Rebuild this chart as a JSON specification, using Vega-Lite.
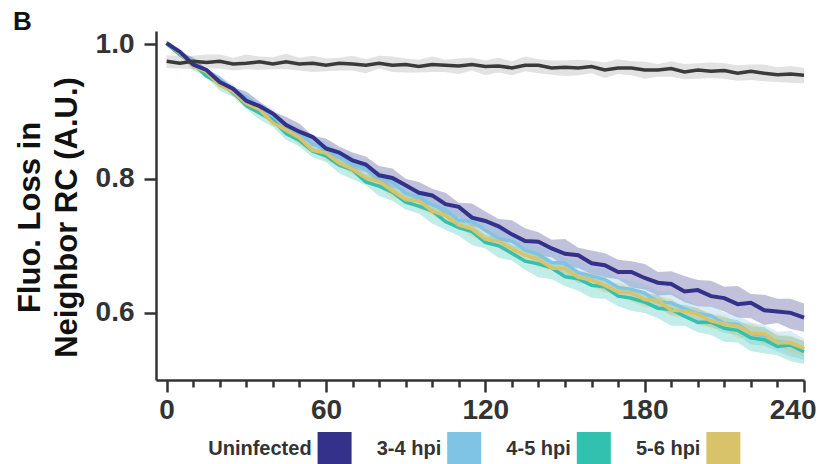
{
"$schema":"https://vega.github.io/schema/vega-lite/v6.json",
"background":"white",
"padding":{"top":9,"left":13,"right":5,"bottom":0},
"config":{"view":{"stroke":null},"font":"Liberation Sans"},
"title":{"text":"B","anchor":"start","frame":"bounds","fontSize":26,"fontWeight":"bold","color":"#111","offset":-5,"dx":-1},
"spacing":8,
"datasets":{
"main":[
{"t":0,"u":0.975,"ul":0.965,"uh":0.984,"a":1.002,"al":0.998,"ah":1.006,"b":1.002,"bl":0.998,"bh":1.006,"c":1.002,"cl":0.999,"ch":1.006,"d":1.002,"dl":0.996,"dh":1.006},
{"t":5,"u":0.972,"ul":0.964,"uh":0.983,"a":0.989,"al":0.982,"ah":0.990,"b":0.985,"bl":0.981,"bh":0.990,"c":0.987,"cl":0.985,"ch":0.987,"d":0.985,"dl":0.983,"dh":0.991},
{"t":10,"u":0.975,"ul":0.963,"uh":0.983,"a":0.970,"al":0.969,"ah":0.980,"b":0.975,"bl":0.969,"bh":0.979,"c":0.968,"cl":0.964,"ch":0.976,"d":0.972,"dl":0.962,"dh":0.973},
{"t":15,"u":0.973,"ul":0.964,"uh":0.985,"a":0.962,"al":0.952,"ah":0.964,"b":0.958,"bl":0.951,"bh":0.961,"c":0.959,"cl":0.954,"ch":0.960,"d":0.953,"dl":0.951,"dh":0.963},
{"t":20,"u":0.975,"ul":0.964,"uh":0.985,"a":0.944,"al":0.942,"ah":0.953,"b":0.947,"bl":0.941,"bh":0.952,"c":0.939,"cl":0.936,"ch":0.949,"d":0.942,"dl":0.931,"dh":0.944},
{"t":25,"u":0.971,"ul":0.961,"uh":0.980,"a":0.934,"al":0.923,"ah":0.936,"b":0.929,"bl":0.924,"bh":0.941,"c":0.930,"cl":0.926,"ch":0.929,"d":0.929,"dl":0.922,"dh":0.935},
{"t":30,"u":0.972,"ul":0.963,"uh":0.985,"a":0.916,"al":0.913,"ah":0.930,"b":0.922,"bl":0.915,"bh":0.923,"c":0.912,"cl":0.904,"ch":0.918,"d":0.909,"dl":0.904,"dh":0.917},
{"t":35,"u":0.974,"ul":0.962,"uh":0.982,"a":0.908,"al":0.896,"ah":0.915,"b":0.906,"bl":0.899,"bh":0.913,"c":0.903,"cl":0.895,"ch":0.906,"d":0.898,"dl":0.888,"dh":0.909},
{"t":40,"u":0.971,"ul":0.963,"uh":0.981,"a":0.897,"al":0.888,"ah":0.900,"b":0.891,"bl":0.883,"bh":0.904,"c":0.883,"cl":0.882,"ch":0.888,"d":0.887,"dl":0.877,"dh":0.888},
{"t":45,"u":0.974,"ul":0.963,"uh":0.986,"a":0.880,"al":0.874,"ah":0.892,"b":0.881,"bl":0.875,"bh":0.884,"c":0.872,"cl":0.866,"ch":0.880,"d":0.867,"dl":0.858,"dh":0.877},
{"t":50,"u":0.971,"ul":0.961,"uh":0.980,"a":0.870,"al":0.859,"ah":0.882,"b":0.870,"bl":0.860,"bh":0.876,"c":0.861,"cl":0.850,"ch":0.864,"d":0.857,"dl":0.848,"dh":0.866},
{"t":55,"u":0.972,"ul":0.959,"uh":0.983,"a":0.862,"al":0.853,"ah":0.864,"b":0.851,"bl":0.843,"bh":0.861,"c":0.842,"cl":0.844,"ch":0.853,"d":0.841,"dl":0.832,"dh":0.847},
{"t":60,"u":0.969,"ul":0.960,"uh":0.979,"a":0.845,"al":0.835,"ah":0.860,"b":0.846,"bl":0.839,"bh":0.855,"c":0.838,"cl":0.827,"ch":0.838,"d":0.834,"dl":0.825,"dh":0.844},
{"t":65,"u":0.972,"ul":0.961,"uh":0.980,"a":0.839,"al":0.829,"ah":0.848,"b":0.832,"bl":0.823,"bh":0.841,"c":0.823,"cl":0.819,"ch":0.832,"d":0.820,"dl":0.808,"dh":0.829},
{"t":70,"u":0.971,"ul":0.961,"uh":0.983,"a":0.827,"al":0.816,"ah":0.839,"b":0.822,"bl":0.814,"bh":0.835,"c":0.814,"cl":0.807,"ch":0.820,"d":0.813,"dl":0.799,"dh":0.820},
{"t":75,"u":0.969,"ul":0.957,"uh":0.978,"a":0.821,"al":0.809,"ah":0.833,"b":0.815,"bl":0.799,"bh":0.818,"c":0.801,"cl":0.793,"ch":0.808,"d":0.795,"dl":0.790,"dh":0.807},
{"t":80,"u":0.972,"ul":0.964,"uh":0.983,"a":0.805,"al":0.794,"ah":0.819,"b":0.800,"bl":0.796,"bh":0.812,"c":0.796,"cl":0.788,"ch":0.803,"d":0.789,"dl":0.774,"dh":0.802},
{"t":85,"u":0.969,"ul":0.959,"uh":0.982,"a":0.801,"al":0.787,"ah":0.815,"b":0.795,"bl":0.779,"bh":0.803,"c":0.782,"cl":0.771,"ch":0.788,"d":0.780,"dl":0.767,"dh":0.788},
{"t":90,"u":0.970,"ul":0.958,"uh":0.979,"a":0.790,"al":0.780,"ah":0.800,"b":0.778,"bl":0.771,"bh":0.789,"c":0.769,"cl":0.768,"ch":0.781,"d":0.765,"dl":0.754,"dh":0.776},
{"t":95,"u":0.967,"ul":0.958,"uh":0.977,"a":0.779,"al":0.764,"ah":0.795,"b":0.773,"bl":0.763,"bh":0.784,"c":0.767,"cl":0.755,"ch":0.767,"d":0.759,"dl":0.748,"dh":0.773},
{"t":100,"u":0.970,"ul":0.959,"uh":0.982,"a":0.775,"al":0.760,"ah":0.785,"b":0.761,"bl":0.748,"bh":0.777,"c":0.752,"cl":0.746,"ch":0.763,"d":0.752,"dl":0.733,"dh":0.758},
{"t":105,"u":0.969,"ul":0.959,"uh":0.977,"a":0.762,"al":0.747,"ah":0.779,"b":0.754,"bl":0.742,"bh":0.761,"c":0.745,"cl":0.733,"ch":0.751,"d":0.736,"dl":0.724,"dh":0.751},
{"t":110,"u":0.968,"ul":0.956,"uh":0.979,"a":0.758,"al":0.742,"ah":0.764,"b":0.738,"bl":0.727,"bh":0.753,"c":0.731,"cl":0.730,"ch":0.740,"d":0.727,"dl":0.715,"dh":0.738},
{"t":115,"u":0.970,"ul":0.961,"uh":0.980,"a":0.742,"al":0.729,"ah":0.763,"b":0.736,"bl":0.724,"bh":0.748,"c":0.725,"cl":0.713,"ch":0.735,"d":0.721,"dl":0.701,"dh":0.731},
{"t":120,"u":0.967,"ul":0.954,"uh":0.976,"a":0.737,"al":0.725,"ah":0.751,"b":0.723,"bl":0.710,"bh":0.732,"c":0.710,"cl":0.706,"ch":0.720,"d":0.705,"dl":0.696,"dh":0.716},
{"t":125,"u":0.968,"ul":0.958,"uh":0.980,"a":0.729,"al":0.709,"ah":0.740,"b":0.711,"bl":0.699,"bh":0.727,"c":0.707,"cl":0.698,"ch":0.713,"d":0.700,"dl":0.682,"dh":0.713},
{"t":130,"u":0.965,"ul":0.954,"uh":0.975,"a":0.717,"al":0.704,"ah":0.738,"b":0.707,"bl":0.694,"bh":0.717,"c":0.695,"cl":0.684,"ch":0.701,"d":0.689,"dl":0.678,"dh":0.702},
{"t":135,"u":0.969,"ul":0.960,"uh":0.982,"a":0.707,"al":0.696,"ah":0.726,"b":0.694,"bl":0.686,"bh":0.704,"c":0.686,"cl":0.680,"ch":0.697,"d":0.677,"dl":0.664,"dh":0.693},
{"t":140,"u":0.969,"ul":0.957,"uh":0.978,"a":0.706,"al":0.685,"ah":0.720,"b":0.687,"bl":0.670,"bh":0.700,"c":0.680,"cl":0.668,"ch":0.690,"d":0.673,"dl":0.653,"dh":0.687},
{"t":145,"u":0.965,"ul":0.955,"uh":0.976,"a":0.696,"al":0.683,"ah":0.709,"b":0.675,"bl":0.665,"bh":0.694,"c":0.667,"cl":0.664,"ch":0.677,"d":0.667,"dl":0.650,"dh":0.674},
{"t":150,"u":0.966,"ul":0.953,"uh":0.976,"a":0.688,"al":0.669,"ah":0.710,"b":0.674,"bl":0.658,"bh":0.682,"c":0.666,"cl":0.650,"ch":0.671,"d":0.654,"dl":0.640,"dh":0.674},
{"t":155,"u":0.965,"ul":0.954,"uh":0.977,"a":0.686,"al":0.667,"ah":0.697,"b":0.660,"bl":0.644,"bh":0.678,"c":0.653,"cl":0.648,"ch":0.663,"d":0.651,"dl":0.633,"dh":0.661},
{"t":160,"u":0.967,"ul":0.957,"uh":0.976,"a":0.674,"al":0.658,"ah":0.693,"b":0.655,"bl":0.643,"bh":0.668,"c":0.649,"cl":0.639,"ch":0.660,"d":0.641,"dl":0.622,"dh":0.657},
{"t":165,"u":0.962,"ul":0.950,"uh":0.973,"a":0.671,"al":0.653,"ah":0.689,"b":0.650,"bl":0.633,"bh":0.666,"c":0.641,"cl":0.630,"ch":0.647,"d":0.639,"dl":0.621,"dh":0.649},
{"t":170,"u":0.965,"ul":0.956,"uh":0.978,"a":0.661,"al":0.650,"ah":0.679,"b":0.638,"bl":0.630,"bh":0.652,"c":0.631,"cl":0.628,"ch":0.645,"d":0.625,"dl":0.610,"dh":0.640},
{"t":175,"u":0.965,"ul":0.954,"uh":0.975,"a":0.661,"al":0.638,"ah":0.677,"b":0.635,"bl":0.617,"bh":0.648,"c":0.630,"cl":0.618,"ch":0.639,"d":0.622,"dl":0.603,"dh":0.638},
{"t":180,"u":0.962,"ul":0.949,"uh":0.974,"a":0.652,"al":0.635,"ah":0.673,"b":0.630,"bl":0.613,"bh":0.643,"c":0.620,"cl":0.608,"ch":0.629,"d":0.616,"dl":0.600,"dh":0.629},
{"t":185,"u":0.962,"ul":0.952,"uh":0.971,"a":0.645,"al":0.626,"ah":0.661,"b":0.616,"bl":0.608,"bh":0.633,"c":0.618,"cl":0.609,"ch":0.625,"d":0.607,"dl":0.592,"dh":0.627},
{"t":190,"u":0.964,"ul":0.952,"uh":0.975,"a":0.643,"al":0.627,"ah":0.662,"b":0.615,"bl":0.596,"bh":0.631,"c":0.604,"cl":0.596,"ch":0.621,"d":0.605,"dl":0.581,"dh":0.613},
{"t":195,"u":0.959,"ul":0.948,"uh":0.971,"a":0.632,"al":0.616,"ah":0.655,"b":0.606,"bl":0.596,"bh":0.620,"c":0.603,"cl":0.592,"ch":0.609,"d":0.595,"dl":0.581,"dh":0.612},
{"t":200,"u":0.962,"ul":0.949,"uh":0.972,"a":0.634,"al":0.610,"ah":0.649,"b":0.599,"bl":0.582,"bh":0.611,"c":0.598,"cl":0.587,"ch":0.607,"d":0.586,"dl":0.571,"dh":0.607},
{"t":205,"u":0.960,"ul":0.950,"uh":0.973,"a":0.625,"al":0.609,"ah":0.648,"b":0.596,"bl":0.579,"bh":0.610,"c":0.588,"cl":0.577,"ch":0.599,"d":0.586,"dl":0.567,"dh":0.597},
{"t":210,"u":0.961,"ul":0.949,"uh":0.972,"a":0.622,"al":0.602,"ah":0.639,"b":0.584,"bl":0.570,"bh":0.601,"c":0.583,"cl":0.575,"ch":0.596,"d":0.577,"dl":0.557,"dh":0.593},
{"t":215,"u":0.957,"ul":0.946,"uh":0.969,"a":0.613,"al":0.593,"ah":0.640,"b":0.583,"bl":0.567,"bh":0.597,"c":0.580,"cl":0.563,"ch":0.584,"d":0.574,"dl":0.556,"dh":0.589},
{"t":220,"u":0.960,"ul":0.947,"uh":0.970,"a":0.615,"al":0.592,"ah":0.628,"b":0.569,"bl":0.553,"bh":0.586,"c":0.570,"cl":0.564,"ch":0.585,"d":0.563,"dl":0.543,"dh":0.580},
{"t":225,"u":0.957,"ul":0.945,"uh":0.970,"a":0.604,"al":0.582,"ah":0.627,"b":0.566,"bl":0.551,"bh":0.582,"c":0.569,"cl":0.553,"ch":0.576,"d":0.560,"dl":0.540,"dh":0.579},
{"t":230,"u":0.955,"ul":0.944,"uh":0.966,"a":0.602,"al":0.585,"ah":0.621,"b":0.557,"bl":0.543,"bh":0.572,"c":0.556,"cl":0.551,"ch":0.568,"d":0.550,"dl":0.537,"dh":0.566},
{"t":235,"u":0.956,"ul":0.943,"uh":0.968,"a":0.600,"al":0.576,"ah":0.621,"b":0.555,"bl":0.535,"bh":0.573,"c":0.555,"cl":0.541,"ch":0.566,"d":0.552,"dl":0.528,"dh":0.565},
{"t":240,"u":0.954,"ul":0.942,"uh":0.965,"a":0.593,"al":0.572,"ah":0.614,"b":0.546,"bl":0.530,"bh":0.562,"c":0.547,"cl":0.536,"ch":0.557,"d":0.542,"dl":0.524,"dh":0.558}
],
"leg":[{"label":"Uninfected"},{"label":"3-4 hpi"},{"label":"4-5 hpi"},{"label":"5-6 hpi"}]
},
"vconcat":[
{
"width":648,"height":349,
"data":{"name":"main"},
"encoding":{
"x":{"field":"t","type":"quantitative","scale":{"domain":[-4,240],"nice":false,"zero":false},
"axis":{"values":[0,10,20,30,40,50,60,70,80,90,100,110,120,130,140,150,160,170,180,190,200,210,220,230,240],
"labelExpr":"datum.value % 60 === 0 ? datum.label : ''",
"tickSize":{"condition":{"test":"datum.value % 60 === 0","value":12},"value":7},
"labelFontSize":28,"labelFontWeight":"bold","labelColor":"#333","labelPadding":4,
"labelFlush":5,"labelFlushOffset":12,"labelOverlap":false,"labelBound":false,
"domainColor":"#333","domainWidth":2.5,"tickColor":"#333","tickWidth":2.5,"grid":false,"title":null}}
},
"layer":[
{"mark":{"type":"area","color":"#3a3a3a","opacity":0.15},
"encoding":{"y":{"field":"ul","type":"quantitative","title":["Fluo. Loss in","Neighbor RC (A.U.)"],"scale":{"domain":[0.5,1.02],"nice":false,"zero":false},
"axis":{"values":[0.6,0.8,1.0],"format":".1f","tickSize":12,"labelFontSize":28,"labelFontWeight":"bold","labelColor":"#333","labelPadding":10,
"domainColor":"#333","domainWidth":2.5,"tickColor":"#333","tickWidth":2.5,"grid":false,
"titleFontSize":31,"titleFontWeight":"bold","titleColor":"#111","titleLineHeight":37,"titlePadding":12,"titleY":186}},
"y2":{"field":"uh"}}},
{"mark":{"type":"area","color":"#34318a","opacity":0.3},"encoding":{"y":{"field":"al","type":"quantitative","title":["Fluo. Loss in","Neighbor RC (A.U.)"]},"y2":{"field":"ah"}}},
{"mark":{"type":"area","color":"#7fc4e5","opacity":0.3},"encoding":{"y":{"field":"bl","type":"quantitative","title":["Fluo. Loss in","Neighbor RC (A.U.)"]},"y2":{"field":"bh"}}},
{"mark":{"type":"area","color":"#33c1af","opacity":0.3},"encoding":{"y":{"field":"dl","type":"quantitative","title":["Fluo. Loss in","Neighbor RC (A.U.)"]},"y2":{"field":"dh"}}},
{"mark":{"type":"area","color":"#d8c36a","opacity":0.3},"encoding":{"y":{"field":"cl","type":"quantitative","title":["Fluo. Loss in","Neighbor RC (A.U.)"]},"y2":{"field":"ch"}}},
{"mark":{"type":"line","color":"#7fc4e5","strokeWidth":3.5},"encoding":{"y":{"field":"b","type":"quantitative","title":["Fluo. Loss in","Neighbor RC (A.U.)"]}}},
{"mark":{"type":"line","color":"#33c1af","strokeWidth":3.5},"encoding":{"y":{"field":"d","type":"quantitative","title":["Fluo. Loss in","Neighbor RC (A.U.)"]}}},
{"mark":{"type":"line","color":"#d8c36a","strokeWidth":3.5},"encoding":{"y":{"field":"c","type":"quantitative","title":["Fluo. Loss in","Neighbor RC (A.U.)"]}}},
{"mark":{"type":"line","color":"#34318a","strokeWidth":4},"encoding":{"y":{"field":"a","type":"quantitative","title":["Fluo. Loss in","Neighbor RC (A.U.)"]}}},
{"mark":{"type":"line","color":"#3a3a3a","strokeWidth":3.5},"encoding":{"y":{"field":"u","type":"quantitative","title":["Fluo. Loss in","Neighbor RC (A.U.)"]}}}
]
},
{
"width":648,"height":34,
"data":{"name":"leg"},
"encoding":{"x":{"field":"label","type":"nominal","sort":null,"scale":{"type":"point","padding":1.065},"axis":null}},
"layer":[
{"mark":{"type":"text","align":"right","baseline":"middle","dx":26,"fontSize":20,"fontWeight":"bold","color":"#333"},
"encoding":{"text":{"field":"label"}}},
{"mark":{"type":"point","shape":"square","size":1156,"filled":true,"opacity":1},
"encoding":{"xOffset":{"value":49},
"color":{"field":"label","type":"nominal","sort":null,"scale":{"domain":["Uninfected","3-4 hpi","4-5 hpi","5-6 hpi"],"range":["#34318a","#7fc4e5","#33c1af","#d8c36a"]},"legend":null}}}
]
}
],
"resolve":{"scale":{"color":"independent","x":"independent"}}
}
